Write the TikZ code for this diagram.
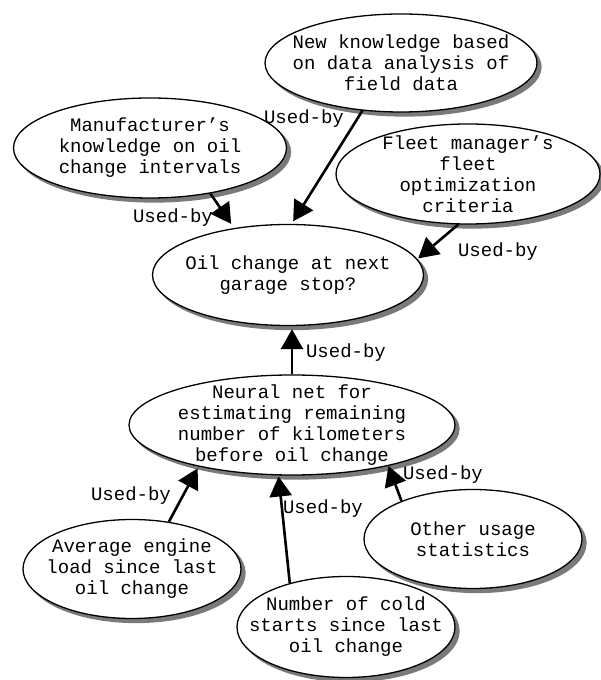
\documentclass[tikz,border=0pt]{standalone}
\usepackage{fontspec}
\setmainfont{Liberation Mono}
\usepackage{tikz}
\usetikzlibrary{shapes.geometric,arrows.meta,calc,backgrounds}
\definecolor{ShadowGray}{HTML}{7A7A7A}

\tikzset{
  bubble/.style={ellipse, draw, line width=1.3pt, fill=white, inner sep=0pt},
  bubbletext/.style={align=center, inner sep=0pt},
  usedby/.style={line width=2.6pt, -{Triangle[length=20pt,width=22pt]}},
  edgelabel/.style={inner sep=0pt}
}

\begin{document}
\begin{tikzpicture}[x=1pt, y=1pt, font=\fontsize{19}{21}\selectfont]
      \useasboundingbox (0,0) rectangle (600,680);

      % knowledge sources
      \node[bubble, minimum width=272pt, minimum height=98pt,
        label={[bubbletext]center:New knowledge based\\on data analysis of\\field data}] (know) at (401,617) {};
      \node[bubble, minimum width=273pt, minimum height=100pt,
        label={[bubbletext]center:Manufacturer's\\knowledge on oil\\change intervals}] (man) at (150,532) {};
      \node[bubble, minimum width=264pt, minimum height=100pt,
        label={[bubbletext]center:Fleet manager's\\fleet\\optimization\\criteria}] (fleet) at (468,506) {};
      \node[bubble, minimum width=271pt, minimum height=101pt,
        label={[bubbletext]center:Oil change at next\\garage stop?}] (oil) at (288,405) {};

      % estimator and its inputs
      \node[bubble, minimum width=326pt, minimum height=100pt,
        label={[bubbletext]center:Neural net for\\estimating remaining\\number of kilometers\\before oil change}] (neural) at (292,255) {};
      \node[bubble, minimum width=218pt, minimum height=99pt,
        label={[bubbletext]center:Average engine\\load since last\\oil change}] (avg) at (132,111) {};
      \node[bubble, minimum width=218pt, minimum height=101pt,
        label={[bubbletext]center:Number of cold\\starts since last\\oil change}] (cold) at (346,53) {};
      \node[bubble, minimum width=218pt, minimum height=99pt,
        label={[bubbletext]center:Other usage\\statistics}] (other) at (473,141) {};

      % shadows
      \begin{scope}[on background layer]
        \fill[white] (0,0) rectangle (600,680);
        \foreach \b in {know,man,fleet,oil,neural,avg,cold,other}
          \fill[ShadowGray] let \p0=(\b.center), \p1=(\b.east), \p2=(\b.north) in
            ($(\p0)+(4,-4)$) ellipse [x radius=\x1-\x0, y radius=\y2-\y0];
      \end{scope}

      % used-by links
      \draw[usedby, shorten >=5pt] (man.-37) -- (oil.139);
      \draw[usedby, shorten >=3pt] (know.-129) -- (oil.86);
      \draw[usedby, shorten >=1pt] (fleet.-101) -- (oil.7);
      \draw[usedby, shorten >=3pt] (neural.north) -- (neural.north |- oil.south);
      \draw[usedby, shorten >=2pt] (avg.52) -- (neural.-156);
      \draw[usedby, shorten >=1pt] (cold.142) -- (neural.-105);
      \draw[usedby] (other.152) -- (neural.-23);

      \node[edgelabel] (lab1) at (173,462) {Used-by};
      \node[edgelabel] (lab2) at (304,561) {Used-by};
      \node[edgelabel] (lab3) at (498,428) {Used-by};
      \node[edgelabel] (lab4) at (346,327) {Used-by};
      \node[edgelabel] (lab5) at (131,184) {Used-by};
      \node[edgelabel] (lab6) at (323,171) {Used-by};
      \node[edgelabel] (lab7) at (443,205) {Used-by};
\end{tikzpicture}
\end{document}
